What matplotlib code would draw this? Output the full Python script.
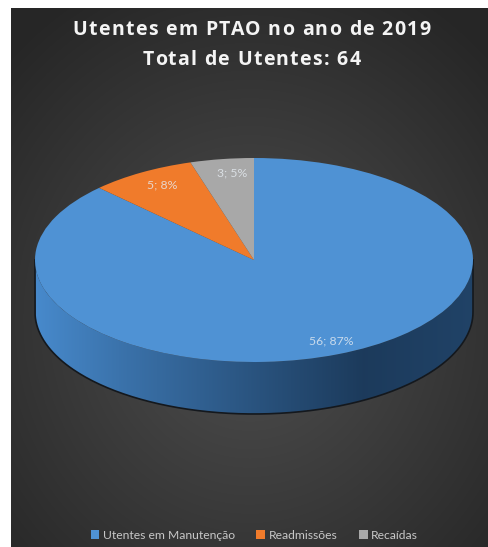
import numpy as np
import matplotlib.pyplot as plt
from matplotlib.patches import Polygon

plt.rcParams['font.family'] = ['Lato', 'DejaVu Sans']

# dados
categorias = ["Utentes em Manutenção", "Readmissões", "Recaídas"]
utentes = [56, 5, 3]
percentagens = [87, 8, 5]
cores = ["#4f92d4", "#f07b2b", "#a8a8a8"]
titulo = ["Utentes em PTAO no ano de 2019", "Total de Utentes: {}".format(sum(utentes))]

W, H = 489, 547
fig = plt.figure(figsize=(W / 100, H / 100), dpi=100)
fig.patch.set_facecolor("white")

# fundo em pixeis
bg = fig.add_axes([0, 0, 1, 1])
bg.set_xlim(0, W)
bg.set_ylim(H, 0)
bg.axis("off")

px0, px1, py0, py1 = 11, W, 8, H
gx, gy = np.meshgrid(np.linspace(px0, px1, 300), np.linspace(py0, py1, 300))
d = np.sqrt(((gx - 250) / 300) ** 2 + ((gy - 320) / 330) ** 2)
fundo = np.clip(0.31 - 0.14 * d, 0.15, 0.31)
bg.imshow(np.dstack([fundo] * 3), extent=(px0, px1, py1, py0), aspect="auto",
          interpolation="bilinear", zorder=0)


def texto_espacado(ax, xc, y, s, espaco, **kw):
    """Escreve s centrado em xc com espaçamento extra entre letras (em pixeis)."""
    r = fig.canvas.get_renderer()
    larguras = []
    for i in range(len(s) + 1):
        tmp = ax.text(0, 0, s[:i] + "|", **kw)
        larguras.append(tmp.get_window_extent(r).width)
        tmp.remove()
    barra = larguras[0]
    larguras = [w - barra for w in larguras]
    total = larguras[-1] + espaco * (len(s) - 1)
    x = xc - total / 2
    for i, c in enumerate(s):
        ax.text(x + larguras[i] + i * espaco, y, c, ha="left", va="center", **kw)


for y, linha in zip([30, 60], titulo):
    texto_espacado(bg, W / 2 + 7, y, linha, 1.3, color="#f4f4f4",
                   fontsize=14, fontweight="bold", family="Open Sans")

# pie em perspetiva: elipse com eixos de aspeto livre
cx0, cx1, top, base = 35, 473, 158, 362
profundidade = 52 / ((base - top) / 2)
ax = fig.add_axes([cx0 / W, (H - base - 52) / H, (cx1 - cx0) / W, (base - top + 52) / H])
ax.set_facecolor("none")

rotulos = ["{}; {}%".format(v, p) for v, p in zip(utentes, percentagens)]
fatias, textos = ax.pie(utentes, colors=cores, startangle=90, counterclock=False,
                        labels=rotulos, labeldistance=0.86, center=(0.025, 0),
                        wedgeprops=dict(linewidth=0),
                        textprops=dict(color="#e6ecf2", alpha=0.8, fontsize=8.8,
                                       ha="center", va="center"))
for f in fatias:
    f.set_center((0, 0))
    f.set_zorder(3)
for t in textos:
    t.set_zorder(4)
ax.set_aspect("auto")
ax.set_xlim(-1, 1)
ax.set_ylim(-1 - profundidade, 1)
ax.axis("off")

# face lateral do cilindro
th = np.linspace(np.pi, 2 * np.pi, 200)
lado = np.concatenate([np.c_[np.cos(th), np.sin(th)],
                       np.c_[np.cos(th[::-1]), np.sin(th[::-1]) - profundidade]])
contorno = Polygon(lado, closed=True, facecolor="none", edgecolor="none",
                   transform=ax.transData)
ax.add_patch(contorno)
xs = np.linspace(-1, 1, 400)
claro = np.array([0.28, 0.54, 0.80])
escuro = np.array([0.11, 0.23, 0.36])
t = np.interp(xs, [-1, -0.6, 0.1, 0.5, 1], [0, 0.3, 0.75, 1.0, 0.9])
grad = claro[None, :] * (1 - t[:, None]) + escuro[None, :] * t[:, None]
img = ax.imshow(grad[None, :, :], extent=(-1, 1, -1 - profundidade, 0),
                aspect="auto", interpolation="bilinear", zorder=2)
img.set_clip_path(contorno)

# contorno escuro da base
bx = np.concatenate([[-1], np.cos(th), [1]])
by = np.concatenate([[0], np.sin(th) - profundidade, [0]])
ax.plot(bx, by, color="#14181d", lw=1.2, zorder=2.5, clip_on=False)

# legenda
leg = fig.legend(fatias, categorias, loc="lower center", bbox_to_anchor=(0.52, -0.008),
                 ncol=3, frameon=False, fontsize=8.7, handlelength=0.7,
                 handleheight=0.7, handletextpad=0.3, columnspacing=1.8,
                 labelcolor="#c8c8c8")

fig.savefig("out.png", dpi=100, facecolor=fig.get_facecolor())
